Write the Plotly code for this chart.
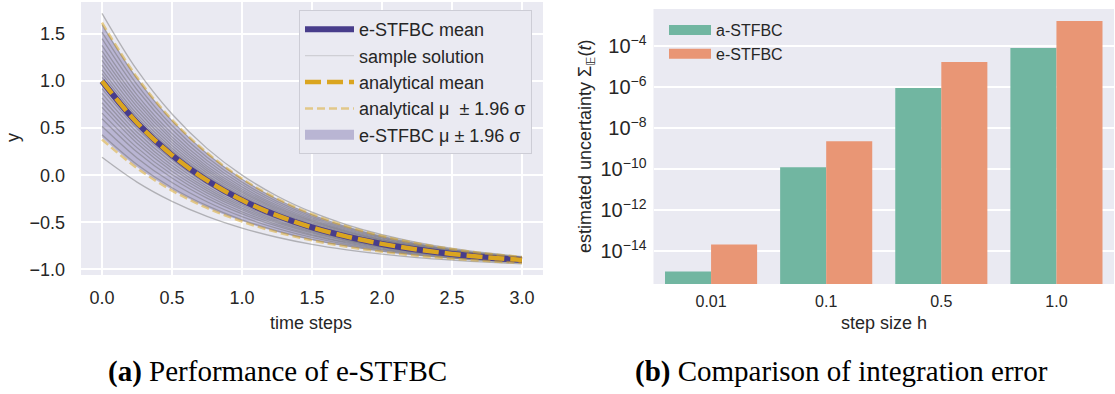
import plotly.graph_objects as go

W, H = 1115, 394

# ---------------- left panel data ----------------
t = [0.0, 0.25, 0.5, 0.75, 1.0, 1.25, 1.5, 1.75, 2.0, 2.25, 2.5, 2.75, 3.0]

analytical_mean = [1.0, 0.558, 0.213, -0.055, -0.264, -0.427, -0.554, -0.652, -0.729, -0.789, -0.836, -0.872, -0.900]
analytical_upper = [1.62, 1.040, 0.589, 0.238, -0.036, -0.249, -0.415, -0.545, -0.646, -0.724, -0.785, -0.833, -0.870]
analytical_lower = [0.38, 0.075, -0.163, -0.348, -0.492, -0.605, -0.692, -0.760, -0.813, -0.855, -0.887, -0.912, -0.931]

estfbc_mean = [1.0, 0.557, 0.212, -0.056, -0.265, -0.428, -0.555, -0.653, -0.730, -0.790, -0.837, -0.873, -0.901]
estfbc_upper = [1.60, 1.03, 0.580, 0.232, -0.040, -0.252, -0.418, -0.547, -0.648, -0.726, -0.787, -0.835, -0.872]
estfbc_lower = [0.40, 0.087, -0.155, -0.343, -0.488, -0.602, -0.690, -0.758, -0.812, -0.854, -0.886, -0.911, -0.930]

sample_solutions = [
    [1.72, 1.118, 0.650, 0.285, 0.001, -0.221, -0.393, -0.527, -0.632, -0.713, -0.777, -0.826, -0.865],
    [1.60, 1.025, 0.577, 0.228, -0.043, -0.255, -0.420, -0.548, -0.648, -0.726, -0.787, -0.834, -0.871],
    [1.52, 0.963, 0.528, 0.190, -0.073, -0.278, -0.438, -0.562, -0.659, -0.734, -0.793, -0.839, -0.875],
    [1.45, 0.908, 0.486, 0.157, -0.099, -0.298, -0.453, -0.574, -0.669, -0.742, -0.799, -0.843, -0.878],
    [1.38, 0.854, 0.443, 0.124, -0.124, -0.318, -0.469, -0.586, -0.678, -0.749, -0.805, -0.848, -0.881],
    [1.32, 0.807, 0.407, 0.096, -0.146, -0.335, -0.482, -0.597, -0.686, -0.755, -0.810, -0.852, -0.884],
    [1.27, 0.768, 0.377, 0.072, -0.165, -0.350, -0.494, -0.605, -0.693, -0.761, -0.814, -0.855, -0.887],
    [1.22, 0.729, 0.346, 0.049, -0.183, -0.364, -0.505, -0.614, -0.700, -0.766, -0.818, -0.858, -0.889],
    [1.17, 0.690, 0.316, 0.025, -0.202, -0.378, -0.516, -0.623, -0.706, -0.771, -0.822, -0.861, -0.892],
    [1.12, 0.651, 0.286, 0.001, -0.220, -0.393, -0.527, -0.632, -0.713, -0.777, -0.826, -0.865, -0.894],
    [1.08, 0.620, 0.262, -0.017, -0.235, -0.404, -0.536, -0.639, -0.719, -0.781, -0.829, -0.867, -0.896],
    [1.04, 0.589, 0.237, -0.036, -0.249, -0.416, -0.545, -0.645, -0.724, -0.785, -0.833, -0.870, -0.898],
    [1.00, 0.558, 0.213, -0.055, -0.264, -0.427, -0.554, -0.652, -0.729, -0.789, -0.836, -0.872, -0.900],
    [0.96, 0.526, 0.189, -0.074, -0.279, -0.438, -0.563, -0.659, -0.735, -0.793, -0.839, -0.875, -0.902],
    [0.92, 0.495, 0.164, -0.093, -0.294, -0.450, -0.572, -0.666, -0.740, -0.798, -0.842, -0.877, -0.904],
    [0.87, 0.456, 0.134, -0.117, -0.312, -0.464, -0.583, -0.675, -0.747, -0.803, -0.846, -0.881, -0.907],
    [0.82, 0.417, 0.104, -0.140, -0.330, -0.479, -0.594, -0.684, -0.754, -0.808, -0.851, -0.884, -0.909],
    [0.77, 0.378, 0.074, -0.164, -0.349, -0.493, -0.605, -0.692, -0.761, -0.813, -0.855, -0.887, -0.912],
    [0.72, 0.340, 0.043, -0.187, -0.367, -0.507, -0.616, -0.701, -0.767, -0.819, -0.859, -0.890, -0.914],
    [0.66, 0.293, 0.007, -0.216, -0.389, -0.524, -0.630, -0.711, -0.775, -0.825, -0.864, -0.894, -0.917],
    [0.60, 0.246, -0.030, -0.244, -0.411, -0.542, -0.643, -0.722, -0.784, -0.831, -0.869, -0.898, -0.920],
    [0.52, 0.184, -0.078, -0.282, -0.441, -0.565, -0.661, -0.736, -0.794, -0.840, -0.875, -0.903, -0.924],
    [0.43, 0.114, -0.133, -0.324, -0.474, -0.590, -0.681, -0.751, -0.807, -0.849, -0.883, -0.909, -0.929],
    [0.19, -0.073, -0.278, -0.438, -0.562, -0.659, -0.735, -0.793, -0.839, -0.875, -0.902, -0.924, -0.941],
]

x_ticks_left = [0.0, 0.5, 1.0, 1.5, 2.0, 2.5, 3.0]
y_ticks_left = [-1.0, -0.5, 0.0, 0.5, 1.0, 1.5]

# ---------------- right panel data ----------------
step_sizes = ["0.01", "0.1", "0.5", "1.0"]
a_stfbc = [1.0e-15, 1.25e-10, 9.3e-7, 8.3e-5]
e_stfbc = [2.1e-14, 2.3e-9, 1.7e-5, 1.75e-3]

# ---------------- styling ----------------
BG = "#EAEAF2"
TXT = "#262626"
PURPLE = "#483D8B"
GOLD = "#DAA520"
GOLD_LIGHT = "rgba(218,165,32,0.5)"
BAND_FILL = "rgba(72,61,139,0.30)"
SAMPLE = "rgba(112,112,116,0.48)"
SAMPLE_LEGEND = "rgba(128,128,128,0.25)"
GREEN = "#71B6A1"
ORANGE = "#E99675"
SANS = "Liberation Sans, Arial, DejaVu Sans, sans-serif"
SERIF = "Liberation Serif, Times New Roman, DejaVu Serif, serif"


def px(x):
    return x / W


def py(y):
    return 1 - y / H


fig = go.Figure()

# e-STFBC band (fill)
fig.add_trace(go.Scatter(x=t, y=estfbc_upper, mode="lines", line=dict(width=0, shape="spline"),
                         showlegend=False, hoverinfo="skip", xaxis="x", yaxis="y"))
fig.add_trace(go.Scatter(x=t, y=estfbc_lower, mode="lines", line=dict(width=0, shape="spline"),
                         fill="tonexty", fillcolor=BAND_FILL, showlegend=False,
                         hoverinfo="skip", xaxis="x", yaxis="y"))

# sample solutions
for s in sample_solutions:
    fig.add_trace(go.Scatter(x=t, y=s, mode="lines", line=dict(color=SAMPLE, width=1.3, shape="spline"),
                             name="sample solution", showlegend=False, xaxis="x", yaxis="y"))

# e-STFBC mean
fig.add_trace(go.Scatter(x=t, y=estfbc_mean, mode="lines", line=dict(color=PURPLE, width=6, shape="spline"),
                         name="e-STFBC mean", legendrank=1, legend="legend", xaxis="x", yaxis="y"))
# analytical mean
fig.add_trace(go.Scatter(x=t, y=analytical_mean, mode="lines",
                         line=dict(color=GOLD, width=4.5, dash="16px,6px", shape="spline"),
                         name="analytical mean", legendrank=3, legend="legend", xaxis="x", yaxis="y"))
# analytical band lines
fig.add_trace(go.Scatter(x=t, y=analytical_upper, mode="lines",
                         line=dict(color=GOLD_LIGHT, width=2.5, dash="8px,4px", shape="spline"),
                         name="analytical μ\u00a0 ± 1.96 σ", legendrank=4, legend="legend",
                         xaxis="x", yaxis="y"))
fig.add_trace(go.Scatter(x=t, y=analytical_lower, mode="lines",
                         line=dict(color=GOLD_LIGHT, width=2.5, dash="8px,4px", shape="spline"),
                         showlegend=False, xaxis="x", yaxis="y"))
# legend entries for samples and for the e-STFBC band
fig.add_trace(go.Scatter(x=[None], y=[None], mode="lines", line=dict(color=SAMPLE_LEGEND, width=1.2),
                         name="sample solution", legendrank=2, legend="legend", xaxis="x", yaxis="y"))
fig.add_trace(go.Scatter(x=[None], y=[None], mode="lines", line=dict(color=BAND_FILL, width=10),
                         name="e-STFBC μ ± 1.96 σ", legendrank=5, legend="legend", xaxis="x", yaxis="y"))

# ---------------- right panel bars ----------------
fig.add_trace(go.Bar(x=step_sizes, y=a_stfbc, marker=dict(color=GREEN, line=dict(width=0)),
                     name="a-STFBC", showlegend=False, xaxis="x2", yaxis="y2"))
fig.add_trace(go.Bar(x=step_sizes, y=e_stfbc, marker=dict(color=ORANGE, line=dict(width=0)),
                     name="e-STFBC", showlegend=False, xaxis="x2", yaxis="y2"))
# legend entries (wide patches)
fig.add_trace(go.Scatter(x=[None], y=[None], mode="lines", line=dict(color=GREEN, width=10),
                         name="a-STFBC", legend="legend2", legendrank=1, xaxis="x2", yaxis="y2"))
fig.add_trace(go.Scatter(x=[None], y=[None], mode="lines", line=dict(color=ORANGE, width=10),
                         name="e-STFBC", legend="legend2", legendrank=2, xaxis="x2", yaxis="y2"))

axis_common = dict(showline=False, zeroline=False, ticks="", gridcolor="white", gridwidth=1.5)

fig.update_layout(
    width=W, height=H,
    margin=dict(l=0, r=0, t=0, b=0),
    paper_bgcolor="white", plot_bgcolor=BG,
    bargap=0.2, bargroupgap=0.0, barmode="group",
    font=dict(family=SANS, color=TXT),
    xaxis=dict(domain=[px(81), px(543)], range=[-0.15, 3.15], tickvals=x_ticks_left,
               tickformat=".1f", anchor="y", ticklabelstandoff=10, automargin=False,
               tickfont=dict(family=SANS, color=TXT, size=18), **axis_common),
    yaxis=dict(domain=[py(275), py(2)], range=[-1.06, 1.84], tickvals=y_ticks_left,
               tickformat=".1f", anchor="x", ticklabelstandoff=15, automargin=False,
               tickfont=dict(family=SANS, color=TXT, size=18), **axis_common),
    xaxis2=dict(domain=[px(653.5), px(1114)], type="category", range=[-0.5, 3.5], anchor="y2",
                showgrid=False, ticklabelstandoff=6, automargin=False,
                tickfont=dict(family=SANS, color=TXT, size=16), **axis_common),
    yaxis2=dict(domain=[py(284), py(9)], type="log", range=[-15.61, -2.175], dtick=2,
                exponentformat="power", anchor="x2", ticklabelstandoff=6, automargin=False,
                tickfont=dict(family=SANS, color=TXT, size=16), **axis_common),
    legend=dict(x=px(299), y=py(10), xanchor="left", yanchor="top", bgcolor=BG,
                bordercolor="#CDCDD6", borderwidth=1, font=dict(family=SANS, size=18, color=TXT),
                itemwidth=49, traceorder="normal"),
    legend2=dict(x=px(664), y=py(13), xanchor="left", yanchor="top", bgcolor="rgba(0,0,0,0)",
                 borderwidth=0, font=dict(family=SANS, size=16, color=TXT),
                 itemwidth=42, traceorder="normal"),
)

annotations = [
    dict(text="time steps", x=px(311), y=py(323), font=dict(size=18)),
    dict(text="y", x=px(13), y=py(138), textangle=-90, font=dict(size=18)),
    dict(text="step size h", x=px(884), y=py(323), font=dict(size=18)),
    dict(text="estimated uncertainty Σ<sub>𝔼</sub>(<i>t</i>)", x=px(587), y=py(147), textangle=-90,
         font=dict(size=18)),
    dict(text="<b>(a)</b> Performance of e-STFBC", x=px(277.5), y=py(371),
         font=dict(family=SERIF, size=29, color="black")),
    dict(text="<b>(b)</b> Comparison of integration error", x=px(841.5), y=py(371),
         font=dict(family=SERIF, size=29, color="black")),
]
for a in annotations:
    a.update(xref="paper", yref="paper", showarrow=False, xanchor="center", yanchor="middle")
    a.setdefault("font", {})
    a["font"].setdefault("family", SANS)
    a["font"].setdefault("color", TXT)
fig.update_layout(annotations=annotations)

fig.write_html("out.html")
